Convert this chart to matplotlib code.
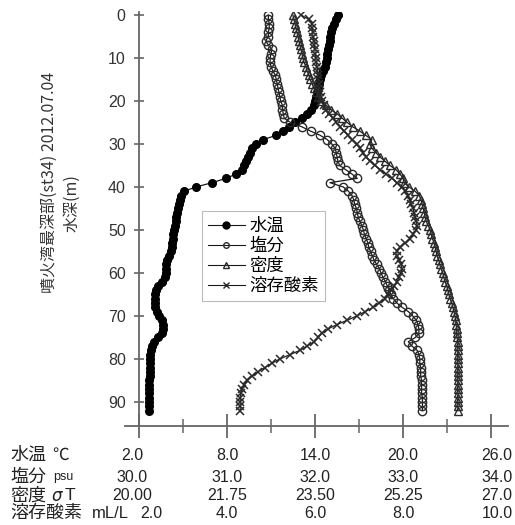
import matplotlib
matplotlib.use("Agg")
import matplotlib.pyplot as plt
from matplotlib import transforms
from matplotlib.lines import Line2D

CJK = ['Noto Sans CJK JP', 'DejaVu Sans']
NUM = 'Liberation Sans'

# profile data, one value per metre
depth = list(range(0, 93))
temp = [15.57, 15.43, 15.29, 15.16, 15.09, 15.02, 15.02, 14.95, 14.88, 14.82,
        14.82, 14.75, 14.68, 14.54, 14.41, 14.34, 14.27, 14.20, 14.13, 14.07,
        14.00, 13.93, 13.72, 13.45, 13.11, 12.63, 12.22, 11.82, 11.34, 10.45,
        9.98, 9.70, 9.57, 9.43, 9.29, 9.16, 9.02, 8.61, 7.93, 6.98,
        5.89, 5.07, 4.86, 4.79, 4.73, 4.66, 4.59, 4.52, 4.52, 4.45,
        4.39, 4.32, 4.32, 4.25, 4.25, 4.18, 4.05, 3.91, 3.84, 3.84,
        3.84, 3.77, 3.57, 3.30, 3.16, 3.09, 3.09, 3.09, 3.09, 3.23,
        3.36, 3.57, 3.64, 3.64, 3.57, 3.30, 3.02, 2.89, 2.82, 2.75,
        2.75, 2.75, 2.75, 2.72, 2.72, 2.70, 2.70, 2.70, 2.68, 2.68,
        2.68, 2.68, 2.68]
sal = [31.47, 31.47, 31.48, 31.48, 31.47, 31.47, 31.44, 31.47, 31.51, 31.50,
       31.49, 31.49, 31.50, 31.52, 31.55, 31.56, 31.57, 31.58, 31.59, 31.60,
       31.61, 31.63, 31.63, 31.64, 31.65, 31.72, 31.85, 31.95, 32.06, 32.14,
       32.19, 32.23, 32.24, 32.25, 32.26, 32.28, 32.35, 32.42, 32.48, 32.17,
       32.32, 32.38, 32.42, 32.44, 32.45, 32.47, 32.48, 32.49, 32.51, 32.53,
       32.55, 32.56, 32.58, 32.60, 32.61, 32.63, 32.65, 32.67, 32.70, 32.73,
       32.75, 32.77, 32.80, 32.82, 32.84, 32.86, 32.89, 32.93, 32.99, 33.06,
       33.11, 33.15, 33.17, 33.18, 33.18, 33.14, 33.06, 33.10, 33.16, 33.18,
       33.19, 33.19, 33.20, 33.20, 33.20, 33.21, 33.21, 33.21, 33.21, 33.22,
       33.22, 33.22, 33.22]
dens = [23.06, 23.08, 23.10, 23.12, 23.14, 23.16, 23.18, 23.20, 23.22, 23.24,
        23.26, 23.28, 23.32, 23.34, 23.38, 23.40, 23.44, 23.48, 23.52, 23.56,
        23.62, 23.72, 23.82, 23.94, 24.04, 24.14, 24.25, 24.39, 24.51, 24.63,
        24.59, 24.63, 24.71, 24.79, 24.89, 24.99, 25.11, 25.19, 25.25, 25.27,
        25.37, 25.49, 25.57, 25.61, 25.63, 25.65, 25.67, 25.69, 25.71, 25.75,
        25.79, 25.81, 25.83, 25.87, 25.89, 25.91, 25.92, 25.96, 25.98, 26.00,
        26.04, 26.06, 26.08, 26.12, 26.14, 26.16, 26.18, 26.22, 26.24, 26.26,
        26.28, 26.30, 26.30, 26.32, 26.32, 26.32, 26.34, 26.34, 26.34, 26.34,
        26.34, 26.34, 26.34, 26.34, 26.34, 26.34, 26.34, 26.34, 26.34, 26.34,
        26.34, 26.34, 26.34]
oxy = [5.68, 5.86, 5.93, 5.93, 5.95, 5.95, 5.98, 5.98, 6.00, 6.00,
       6.02, 6.02, 6.05, 6.05, 6.07, 6.07, 6.09, 6.09, 6.11, 6.14,
       6.16, 6.20, 6.25, 6.32, 6.41, 6.48, 6.57, 6.66, 6.75, 6.84,
       6.95, 7.02, 7.09, 7.16, 7.25, 7.36, 7.48, 7.61, 7.75, 7.86,
       7.98, 8.05, 8.11, 8.16, 8.18, 8.23, 8.25, 8.27, 8.30, 8.32,
       8.30, 8.23, 8.16, 8.05, 7.93, 7.86, 7.86, 7.91, 7.95, 7.98,
       7.95, 7.91, 7.86, 7.80, 7.73, 7.66, 7.59, 7.45, 7.32, 7.14,
       6.95, 6.73, 6.50, 6.30, 6.16, 6.07, 5.98, 5.82, 5.66, 5.43,
       5.20, 5.02, 4.86, 4.70, 4.57, 4.45, 4.39, 4.34, 4.32, 4.30,
       4.30, 4.30, 4.30]

# bottom scale rows: name, unit, tick values, tick texts
row_names = ['水温', '塩分', '密度', '溶存酸素']
row_units = ['℃', 'psu', 'σT', 'mL/L']
temp_ticks = [2.0, 8.0, 14.0, 20.0, 26.0]
sal_ticks = [30.0, 31.0, 32.0, 33.0, 34.0]
dens_ticks = [20.00, 21.75, 23.50, 25.25, 27.0]
oxy_ticks = [2.0, 4.0, 6.0, 8.0, 10.0]
temp_labels = ['2.0', '8.0', '14.0', '20.0', '26.0']
sal_labels = ['30.0', '31.0', '32.0', '33.0', '34.0']
dens_labels = ['20.00', '21.75', '23.50', '25.25', '27.0']
oxy_labels = ['2.0', '4.0', '6.0', '8.0', '10.0']

fig = plt.figure(figsize=(5.15, 5.25), dpi=100)
ax = fig.add_axes([125 / 515, 99 / 525, 383 / 515, 414 / 525])

XLIM = (1.05, 27.15)
ax.set_xlim(*XLIM)
ax.set_ylim(95.6, -0.7)


def scaled_lim(ticks):
    lo, hi = ticks[0], ticks[-1]
    return [lo + (v - 2.0) * (hi - lo) / 24.0 for v in XLIM]


axc = '#666666'
for side in ['top', 'right']:
    ax.spines[side].set_visible(False)
ax.spines['left'].set_position(('data', 2.0))
for side in ['left', 'bottom']:
    ax.spines[side].set_color(axc)
    ax.spines[side].set_linewidth(1.3)

ax.set_yticks(range(0, 91, 10))
ax.tick_params(axis='y', direction='inout', length=7, width=1.2, color=axc,
               pad=6, labelsize=11.5, labelcolor='#333333')
for lab in ax.get_yticklabels():
    lab.set_family(NUM)
ax.set_xticks(temp_ticks)
ax.set_xticks([5, 11, 17, 23], minor=True)
ax.tick_params(axis='x', which='major', direction='inout', length=17,
               width=1.3, color=axc, labelbottom=False)
ax.tick_params(axis='x', which='minor', direction='inout', length=10,
               width=1.1, color=axc)

# one twin axis per variable so each series sits on its own scale
scales = {}
for key, ticks in [('temp', temp_ticks), ('sal', sal_ticks),
                   ('dens', dens_ticks), ('oxy', oxy_ticks)]:
    if key == 'temp':
        scales[key] = ax
        continue
    tw = ax.twiny()
    tw.set_xlim(*scaled_lim(ticks))
    tw.set_ylim(95.6, -0.7)
    tw.axis('off')
    scales[key] = tw

lc = '#1a1a1a'
mc = '#2a2a2a'
scales['temp'].plot(temp, depth, '-', color=lc, lw=0.9, marker='o',
                    ms=5.5, mfc='black', mec='black')
scales['sal'].plot(sal, depth, '-', color=lc, lw=0.9, marker='o',
                   ms=6, mfc='none', mec=mc, mew=1.0)
scales['dens'].plot(dens, depth, '-', color=lc, lw=0.9, marker='^',
                    ms=5.5, mfc='none', mec=mc, mew=1.0)
scales['oxy'].plot(oxy, depth, '-', color=lc, lw=0.9, marker='x',
                   ms=5.5, mec=mc, mew=1.1)

leg_handles = [
    Line2D([], [], color=lc, lw=0.8, marker='o', ms=5, mfc='black', mec='black'),
    Line2D([], [], color=lc, lw=0.8, marker='o', ms=4, mfc='none', mec=mc),
    Line2D([], [], color=lc, lw=0.8, marker='^', ms=4, mfc='none', mec=mc),
    Line2D([], [], color=lc, lw=0.8, marker='x', ms=4, mec=mc),
]
leg = scales['oxy'].legend(leg_handles, ['水温', '塩分', '密度', '溶存酸素'],
                           loc='upper left',
                           bbox_to_anchor=(202 / 515, 1 - 211 / 525),
                           bbox_transform=fig.transFigure,
                           prop={'family': CJK, 'size': 12.5},
                           fancybox=False, framealpha=1, edgecolor='#bbbbbb',
                           handlelength=2.1, handletextpad=0.3,
                           labelspacing=0.12, borderpad=0.35,
                           borderaxespad=0)
leg.get_frame().set_linewidth(0.8)

# y label, two lines
fig.text(49 / 515, 1 - 182 / 525, '噴火湾最深部(st34) 2012.07.04', rotation=90,
         ha='center', va='center', family=CJK, size=11.5, color='#333333')
fig.text(72 / 515, 1 - 203 / 525, '水深(m)', rotation=90,
         ha='center', va='center', family=CJK, size=11.5, color='#333333')

# bottom scale table
row_y = [455, 477, 496, 513]
row_ticks = [temp_ticks, sal_ticks, dens_ticks, oxy_ticks]
row_texts = [temp_labels, sal_labels, dens_labels, oxy_labels]
row_axes = [scales['temp'], scales['sal'], scales['dens'], scales['oxy']]
unit_x = [52, 53, 52, 92]
unit_size = [12, 9, 12, 12]
for i in range(4):
    yf = 1 - row_y[i] / 525
    fig.text(10 / 515, yf, row_names[i], ha='left', va='center',
             family=CJK, size=13, color='#222222')
    if row_units[i] == 'σT':
        fig.text(unit_x[i] / 515, yf, 'σ', ha='left', va='center',
                 family='DejaVu Sans', style='italic', size=12, color='#222222')
        fig.text((unit_x[i] + 13) / 515, yf, 'T', ha='left', va='center',
                 family=NUM, size=12.5, color='#222222')
    else:
        fam = CJK if row_units[i] == '℃' else NUM
        fig.text(unit_x[i] / 515, yf, row_units[i], ha='left', va='center',
                 family=fam, size=unit_size[i], color='#222222')
    base = transforms.blended_transform_factory(row_axes[i].transData,
                                                fig.transFigure)
    for j, (v, s) in enumerate(zip(row_ticks[i], row_texts[i])):
        dx = 0
        if j == 0:
            dx = 12 if i == 3 else -7
        elif j == len(row_ticks[i]) - 1:
            dx = 6
        tr = transforms.offset_copy(base, fig=fig, x=dx, y=0, units='dots')
        fig.text(v, yf, s, transform=tr, ha='center', va='center',
                 family=NUM, size=11.5, color='#222222')

fig.savefig('out.png', dpi=100, facecolor='white')
